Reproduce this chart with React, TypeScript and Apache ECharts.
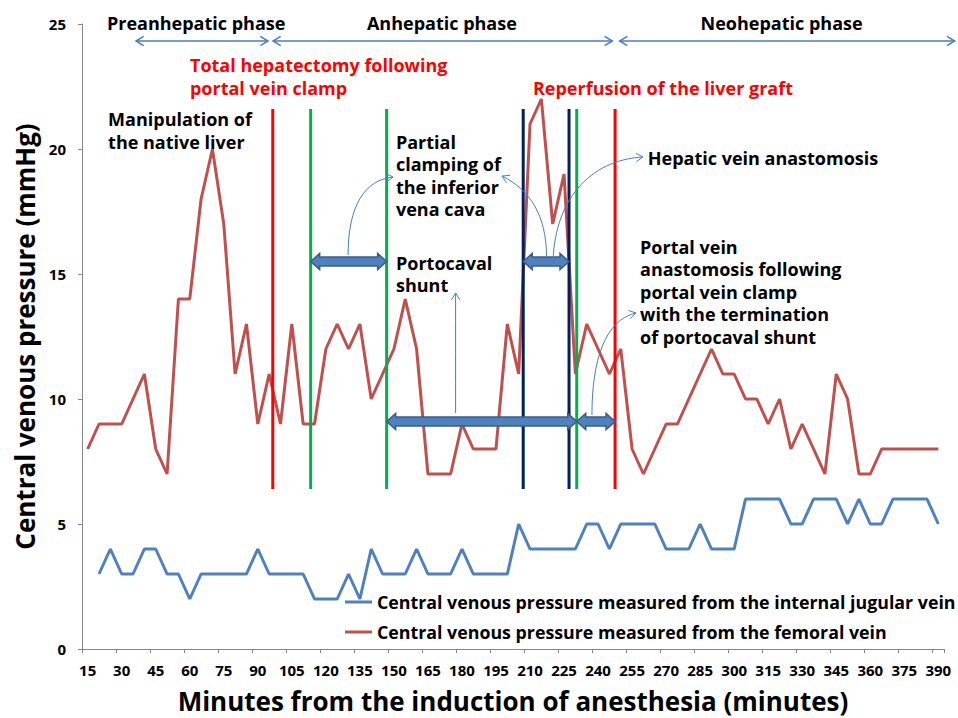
import React, { useEffect, useRef } from "react";
import * as echarts from "echarts";

const minutes = [
  "15","20","25","30","35","40","45","50","55","60",
  "65","70","75","80","85","90","95","100","105","110",
  "115","120","125","130","135","140","145","150","155","160",
  "165","170","175","180","185","190","195","200","205","210",
  "215","220","225","230","235","240","245","250","255","260",
  "265","270","275","280","285","290","295","300","305","310",
  "315","320","325","330","335","340","345","350","355","360",
  "365","370","375","380","385","390",
];

const femoral = [
  8, 9, 9, 9, 10, 11, 8, 7, 14, 14,
  18, 20, 17, 11, 13, 9, 11, 9, 13, 9,
  9, 12, 13, 12, 13, 10, 11, 12, 14, 12,
  7, 7, 7, 9, 8, 8, 8, 13, 11, 21,
  22, 17, 19, 11, 13, 12, 11, 12, 8, 7,
  8, 9, 9, 10, 11, 12, 11, 11, 10, 10,
  9, 10, 8, 9, 8, 7, 11, 10, 7, 7,
  8, 8, 8, 8, 8, 8,
];

const jugular = [
  null, 3, 4, 3, 3, 4, 4, 3, 3, 2,
  3, 3, 3, 3, 3, 4, 3, 3, 3, 3,
  2, 2, 2, 3, 2, 4, 3, 3, 3, 4,
  3, 3, 3, 4, 3, 3, 3, 3, 5, 4,
  4, 4, 4, 4, 5, 5, 4, 5, 5, 5,
  5, 4, 4, 4, 5, 4, 4, 4, 6, 6,
  6, 6, 5, 5, 6, 6, 6, 5, 6, 5,
  5, 6, 6, 6, 6, 5,
];

const seriesNames = [
  "Central venous pressure measured from the internal jugular vein",
  "Central venous pressure measured from the femoral vein",
];

// event lines: [minute, fromValue, toValue, colorIndex]
const eventColors = ["#ff0000", "#00b050", "#002060"];
const eventLines = [
  [96.6, 6.4, 21.6, 0],
  [113.3, 6.4, 21.6, 1],
  [146.8, 6.4, 21.6, 1],
  [207.0, 6.4, 21.6, 2],
  [227.2, 6.4, 21.6, 2],
  [230.6, 6.4, 21.6, 1],
  [247.5, 6.4, 21.6, 0],
];

// block double arrows: [fromMinute, toMinute, value]
const blockArrows = [
  [113.3, 146.8, 15.5],
  [207.0, 227.2, 15.5],
  [146.8, 230.6, 9.1],
  [230.6, 247.5, 9.1],
];

// phase arrows: [fromMinute, toMinute, value]
const phaseArrows = [
  [36.3, 94.5, 24.32],
  [96.7, 246.3, 24.32],
  [249.5, 397.2, 24.32],
];

// curved connectors: [x0,y0,cx1,cy1,cx2,cy2,x3,y3]
const connectors = [
  [129.8, 15.76, 129.8, 17.76, 137.3, 18.76, 149.6, 18.88],
  [217.3, 15.72, 217.1, 17.36, 210.0, 18.36, 197.7, 18.92],
  [220.1, 15.28, 220.1, 17.96, 236.4, 19.56, 259.8, 19.68],
  [177.2, 9.44, 177.2, 11.0, 177.2, 12.7, 177.2, 14.24],
  [237.3, 9.36, 237.3, 11.56, 243.1, 13.16, 256.7, 13.44],
];

const labelTexts = [
  "Preanhepatic phase",
  "Anhepatic phase",
  "Neohepatic phase",
  "Total hepatectomy following\nportal vein clamp",
  "Reperfusion of the liver graft",
  "Manipulation of\nthe native liver",
  "Partial\nclamping of\nthe inferior\nvena cava",
  "Portocaval\nshunt",
  "Hepatic vein anastomosis",
  "Portal vein\nanastomosis following\nportal vein clamp\nwith the termination\nof portocaval shunt",
];
const labelColors = ["#000", "#000", "#000", "#ff0000", "#ff0000", "#000", "#000", "#000", "#000", "#000"];
// [minute, value (first line centre), labelIndex]
const labelPositions = [
  [23.5, 25.04, 0],
  [138.1, 25.04, 1],
  [285.2, 25.04, 2],
  [60.1, 23.36, 3],
  [211.3, 22.44, 4],
  [24.0, 21.2, 5],
  [150.9, 20.29, 6],
  [150.9, 15.45, 7],
  [261.9, 19.63, 8],
  [258.5, 16.09, 9],
];

const FONT = "'Open Sans', 'Noto Sans', sans-serif";
const LINE_H = 22.5;
const THIN = "#4a7ebb";

function chevron(tx: number, ty: number, fx: number, fy: number, len = 8, ang = 0.55) {
  const a = Math.atan2(ty - fy, tx - fx);
  return [
    [tx - len * Math.cos(a - ang), ty - len * Math.sin(a - ang)],
    [tx, ty],
    [tx - len * Math.cos(a + ang), ty - len * Math.sin(a + ang)],
  ];
}

export default function App() {
  const ref = useRef<HTMLDivElement>(null);
  useEffect(() => {
    if (!ref.current) return;
    const chart = echarts.init(ref.current, null, { renderer: "svg" });
    const axisLine = { lineStyle: { color: "#868686", width: 1 } };
    const option: any = {
      animation: false,
      backgroundColor: "#fff",
      grid: { left: 82, right: 14, top: 24, bottom: 69, outerBoundsMode: "none", containLabel: false },
      legend: {
        orient: "vertical",
        left: 345,
        top: 592,
        padding: 0,
        icon: "rect",
        itemWidth: 27,
        itemHeight: 3,
        itemGap: 10,
        data: seriesNames,
        textStyle: { fontFamily: FONT, fontSize: 17.8, fontWeight: "bold", color: "#000", lineHeight: 20 },
      },
      xAxis: [
        {
          type: "category",
          data: minutes,
          boundaryGap: true,
          axisLine,
          axisTick: { show: true, interval: 2, length: 4, lineStyle: { color: "#868686" } },
          axisLabel: { interval: 2, fontFamily: FONT, fontSize: 15, fontWeight: "bold", color: "#000", margin: 13 },
          splitLine: { show: false },
          name: "Minutes from the induction of anesthesia (minutes)",
          nameLocation: "middle",
          nameGap: 39,
          nameTextStyle: { fontFamily: FONT, fontSize: 26, fontWeight: "bold", color: "#000", lineHeight: 26 },
        },
        { type: "value", min: 12.5, max: 392.5, show: false },
      ],
      yAxis: {
        type: "value",
        min: 0,
        max: 25,
        interval: 5,
        axisLine: { show: true, ...axisLine },
        axisTick: { show: true, length: 4, lineStyle: { color: "#868686" } },
        axisLabel: { fontFamily: FONT, fontSize: 15, fontWeight: "bold", color: "#000", margin: 16 },
        splitLine: { show: false },
        name: "Central venous pressure (mmHg)",
        nameLocation: "middle",
        nameGap: 42,
        nameTextStyle: { fontFamily: FONT, fontSize: 26, fontWeight: "bold", color: "#000" },
      },
      series: [
        {
          name: seriesNames[0],
          type: "line",
          data: jugular,
          symbol: "none",
          connectNulls: false,
          lineStyle: { color: "#4f81bd", width: 3 },
          itemStyle: { color: "#4f81bd" },
          z: 2,
        },
        {
          name: seriesNames[1],
          type: "line",
          data: femoral,
          symbol: "none",
          lineStyle: { color: "#c0504d", width: 3 },
          itemStyle: { color: "#c0504d" },
          z: 2,
        },
        {
          type: "custom",
          xAxisIndex: 1,
          z: 3,
          encode: { x: 0, y: [1, 2] },
          data: eventLines,
          renderItem: (_p: any, api: any) => {
            const a = api.coord([api.value(0), api.value(1)]);
            const b = api.coord([api.value(0), api.value(2)]);
            return {
              type: "line",
              shape: { x1: a[0], y1: a[1], x2: b[0], y2: b[1] },
              style: { stroke: eventColors[api.value(3)], lineWidth: 3 },
            };
          },
        },
        {
          type: "custom",
          xAxisIndex: 1,
          z: 4,
          encode: { x: [0, 1], y: 2 },
          data: blockArrows,
          renderItem: (_p: any, api: any) => {
            const p1 = api.coord([api.value(0), api.value(2)]);
            const p2 = api.coord([api.value(1), api.value(2)]);
            const y = p1[1];
            const x1 = p1[0];
            const x2 = p2[0];
            const s = 4.5, h = 8, L = 9;
            return {
              type: "polygon",
              shape: {
                points: [
                  [x1, y], [x1 + L, y - h], [x1 + L, y - s], [x2 - L, y - s], [x2 - L, y - h],
                  [x2, y], [x2 - L, y + h], [x2 - L, y + s], [x1 + L, y + s], [x1 + L, y + h],
                ],
              },
              style: { fill: "#4f81bd", stroke: "#385d8a", lineWidth: 1.5 },
            };
          },
        },
        {
          type: "custom",
          xAxisIndex: 1,
          z: 4,
          encode: { x: [0, 1], y: 2 },
          data: phaseArrows,
          renderItem: (_p: any, api: any) => {
            const p1 = api.coord([api.value(0), api.value(2)]);
            const p2 = api.coord([api.value(1), api.value(2)]);
            const st = { stroke: THIN, lineWidth: 1.5, fill: "none" };
            return {
              type: "group",
              children: [
                { type: "line", shape: { x1: p1[0], y1: p1[1], x2: p2[0], y2: p2[1] }, style: st },
                { type: "polyline", shape: { points: chevron(p1[0], p1[1], p2[0], p2[1], 9, 0.55) }, style: st },
                { type: "polyline", shape: { points: chevron(p2[0], p2[1], p1[0], p1[1], 9, 0.55) }, style: st },
              ],
            };
          },
        },
        {
          type: "custom",
          xAxisIndex: 1,
          z: 5,
          encode: { x: [0, 2, 4, 6], y: [1, 3, 5, 7] },
          data: connectors,
          renderItem: (_p: any, api: any) => {
            const p0 = api.coord([api.value(0), api.value(1)]);
            const c1 = api.coord([api.value(2), api.value(3)]);
            const c2 = api.coord([api.value(4), api.value(5)]);
            const p3 = api.coord([api.value(6), api.value(7)]);
            const st = { stroke: THIN, lineWidth: 1, fill: "none" };
            return {
              type: "group",
              children: [
                {
                  type: "bezierCurve",
                  shape: { x1: p0[0], y1: p0[1], cpx1: c1[0], cpy1: c1[1], cpx2: c2[0], cpy2: c2[1], x2: p3[0], y2: p3[1] },
                  style: st,
                },
                { type: "polyline", shape: { points: chevron(p3[0], p3[1], c2[0], c2[1], 8, 0.55) }, style: st },
              ],
            };
          },
        },
        {
          type: "custom",
          xAxisIndex: 1,
          z: 6,
          encode: { x: 0, y: 1 },
          data: labelPositions,
          renderItem: (_p: any, api: any) => {
            const p = api.coord([api.value(0), api.value(1)]);
            const idx = api.value(2);
            return {
              type: "text",
              x: p[0],
              y: p[1] - LINE_H / 2,
              style: {
                text: labelTexts[idx],
                fill: labelColors[idx],
                fontFamily: FONT,
                fontSize: 18,
                fontWeight: "bold",
                lineHeight: LINE_H,
                align: "left",
                verticalAlign: "top",
              },
            };
          },
        },
      ],
    };
    chart.setOption(option);
    return () => chart.dispose();
  }, []);
  return (
    <div
      ref={ref}
      style={{ position: "fixed", left: 0, top: 0, width: 958, height: 718, background: "#fff" }}
    />
  );
}
